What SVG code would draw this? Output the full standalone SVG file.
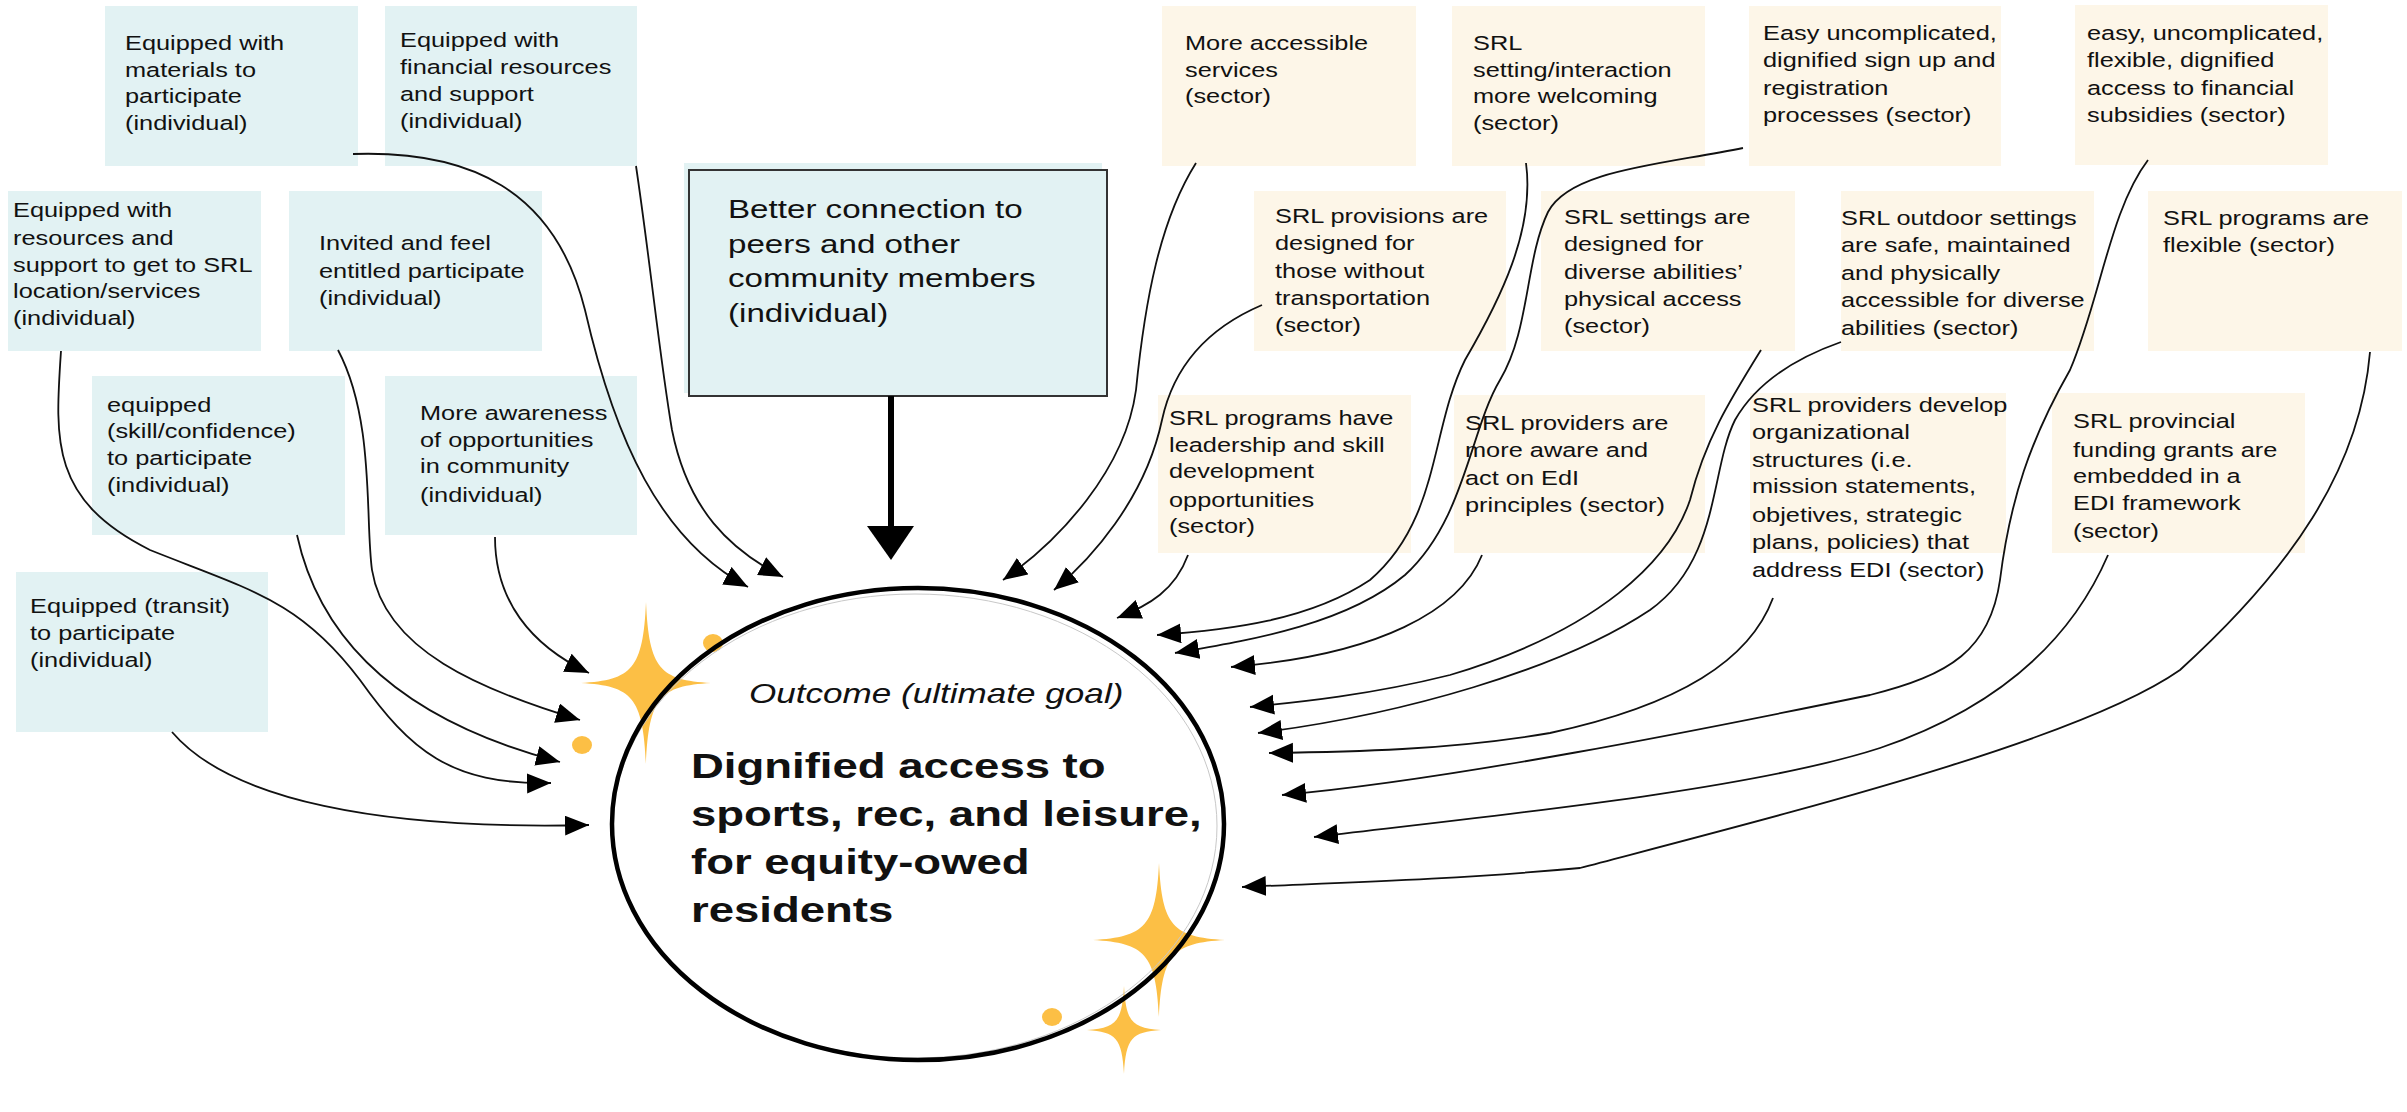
<svg xmlns="http://www.w3.org/2000/svg" width="2407" height="1112" viewBox="0 0 2407 1112">
<defs>
<style>
.ind{fill:#e2f2f3}
.sec{fill:#fdf6e8}
.t{font-family:"Liberation Sans",Arial,sans-serif;font-size:19.5px;fill:#111}
.bigt{font-family:"Liberation Sans",Arial,sans-serif;font-size:25.5px;fill:#111}
.goal{font-family:"Liberation Sans",Arial,sans-serif;font-size:35px;font-weight:bold;fill:#111}
.oc{font-family:"Liberation Sans",Arial,sans-serif;font-size:27px;font-style:italic;fill:#111}
.c{fill:none;stroke:#111;stroke-width:1.8;marker-end:url(#ah)}
.gold{fill:#fcbf45}
</style>
<marker id="ah" markerWidth="26" markerHeight="22" refX="24" refY="10" orient="auto" markerUnits="userSpaceOnUse"><path d="M0,0 L24,10 L0,20 z" fill="#000"/></marker>
</defs>
<rect width="2407" height="1112" fill="#fff"/>

<g id="n-materials"><rect class="ind" x="105" y="6" width="253" height="160"/>
<text class="t" transform="matrix(1.3,0,0,1,125,0)"><tspan x="0" y="50">Equipped with</tspan><tspan x="0" y="77">materials to</tspan><tspan x="0" y="103">participate</tspan><tspan x="0" y="130">(individual)</tspan></text></g>

<g id="n-financial"><rect class="ind" x="385" y="6" width="252" height="160"/>
<text class="t" transform="matrix(1.3,0,0,1,400,0)"><tspan x="0" y="47">Equipped with</tspan><tspan x="0" y="74">financial resources</tspan><tspan x="0" y="101">and support</tspan><tspan x="0" y="128">(individual)</tspan></text></g>

<g id="n-resources"><rect class="ind" x="8" y="191" width="253" height="160"/>
<text class="t" transform="matrix(1.3,0,0,1,13,0)"><tspan x="0" y="217">Equipped with</tspan><tspan x="0" y="245">resources and</tspan><tspan x="0" y="272">support to get to SRL</tspan><tspan x="0" y="298">location/services</tspan><tspan x="0" y="325">(individual)</tspan></text></g>

<g id="n-invited"><rect class="ind" x="289" y="191" width="253" height="160"/>
<text class="t" transform="matrix(1.3,0,0,1,319,0)"><tspan x="0" y="250">Invited and feel</tspan><tspan x="0" y="278">entitled participate</tspan><tspan x="0" y="305">(individual)</tspan></text></g>

<g id="n-skill"><rect class="ind" x="92" y="376" width="253" height="159"/>
<text class="t" transform="matrix(1.3,0,0,1,107,0)"><tspan x="0" y="412">equipped</tspan><tspan x="0" y="438">(skill/confidence)</tspan><tspan x="0" y="465">to participate</tspan><tspan x="0" y="492">(individual)</tspan></text></g>

<g id="n-awareness"><rect class="ind" x="385" y="376" width="252" height="159"/>
<text class="t" transform="matrix(1.3,0,0,1,420,0)"><tspan x="0" y="420">More awareness</tspan><tspan x="0" y="447">of opportunities</tspan><tspan x="0" y="473">in community</tspan><tspan x="0" y="502">(individual)</tspan></text></g>

<g id="n-transit"><rect class="ind" x="16" y="572" width="252" height="160"/>
<text class="t" transform="matrix(1.3,0,0,1,30,0)"><tspan x="0" y="613">Equipped (transit)</tspan><tspan x="0" y="640">to participate</tspan><tspan x="0" y="667">(individual)</tspan></text></g>

<g id="n-connection"><rect class="ind" x="684" y="163" width="418" height="230"/>
<rect class="ind" x="689" y="170" width="418" height="226" stroke="#333" stroke-width="2"/>
<text class="bigt" transform="matrix(1.3,0,0,1,728,0)"><tspan x="0" y="218">Better connection to</tspan><tspan x="0" y="253">peers and other</tspan><tspan x="0" y="287">community members</tspan><tspan x="0" y="322">(individual)</tspan></text></g>

<g id="n-accessible"><rect class="sec" x="1162" y="6" width="254" height="160"/>
<text class="t" transform="matrix(1.3,0,0,1,1185,0)"><tspan x="0" y="50">More accessible</tspan><tspan x="0" y="77">services</tspan><tspan x="0" y="103">(sector)</tspan></text></g>

<g id="n-welcoming"><rect class="sec" x="1452" y="6" width="253" height="160"/>
<text class="t" transform="matrix(1.3,0,0,1,1473,0)"><tspan x="0" y="50">SRL</tspan><tspan x="0" y="77">setting/interaction</tspan><tspan x="0" y="103">more welcoming</tspan><tspan x="0" y="130">(sector)</tspan></text></g>

<g id="n-signup"><rect class="sec" x="1749" y="6" width="252" height="160"/>
<text class="t" transform="matrix(1.3,0,0,1,1763,0)"><tspan x="0" y="40">Easy uncomplicated,</tspan><tspan x="0" y="67">dignified sign up and</tspan><tspan x="0" y="95">registration</tspan><tspan x="0" y="122">processes (sector)</tspan></text></g>

<g id="n-subsidies"><rect class="sec" x="2075" y="5" width="253" height="160"/>
<text class="t" transform="matrix(1.3,0,0,1,2087,0)"><tspan x="0" y="40">easy, uncomplicated,</tspan><tspan x="0" y="67">flexible, dignified</tspan><tspan x="0" y="95">access to financial</tspan><tspan x="0" y="122">subsidies (sector)</tspan></text></g>

<g id="n-provisions"><rect class="sec" x="1254" y="191" width="252" height="160"/>
<text class="t" transform="matrix(1.3,0,0,1,1275,0)"><tspan x="0" y="223">SRL provisions are</tspan><tspan x="0" y="250">designed for</tspan><tspan x="0" y="278">those without</tspan><tspan x="0" y="305">transportation</tspan><tspan x="0" y="332">(sector)</tspan></text></g>

<g id="n-settings"><rect class="sec" x="1541" y="191" width="254" height="160"/>
<text class="t" transform="matrix(1.3,0,0,1,1564,0)"><tspan x="0" y="224">SRL settings are</tspan><tspan x="0" y="251">designed for</tspan><tspan x="0" y="279">diverse abilities’</tspan><tspan x="0" y="306">physical access</tspan><tspan x="0" y="333">(sector)</tspan></text></g>

<g id="n-outdoor"><rect class="sec" x="1841" y="191" width="253" height="160"/>
<text class="t" transform="matrix(1.3,0,0,1,1841,0)"><tspan x="0" y="225">SRL outdoor settings</tspan><tspan x="0" y="252">are safe, maintained</tspan><tspan x="0" y="280">and physically</tspan><tspan x="0" y="307">accessible for diverse</tspan><tspan x="0" y="335">abilities (sector)</tspan></text></g>

<g id="n-flexible"><rect class="sec" x="2148" y="191" width="254" height="160"/>
<text class="t" transform="matrix(1.3,0,0,1,2163,0)"><tspan x="0" y="225">SRL programs are</tspan><tspan x="0" y="252">flexible (sector)</tspan></text></g>

<g id="n-leadership"><rect class="sec" x="1158" y="395" width="253" height="158"/>
<text class="t" transform="matrix(1.3,0,0,1,1169,0)"><tspan x="0" y="425">SRL programs have</tspan><tspan x="0" y="452">leadership and skill</tspan><tspan x="0" y="478">development</tspan><tspan x="0" y="507">opportunities</tspan><tspan x="0" y="533">(sector)</tspan></text></g>

<g id="n-aware"><rect class="sec" x="1454" y="395" width="251" height="158"/>
<text class="t" transform="matrix(1.3,0,0,1,1465,0)"><tspan x="0" y="430">SRL providers are</tspan><tspan x="0" y="457">more aware and</tspan><tspan x="0" y="485">act on EdI</tspan><tspan x="0" y="512">principles (sector)</tspan></text></g>

<g id="n-develop"><rect class="sec" x="1750" y="393" width="256" height="160"/>
<text class="t" transform="matrix(1.3,0,0,1,1752,0)"><tspan x="0" y="412">SRL providers develop</tspan><tspan x="0" y="439">organizational</tspan><tspan x="0" y="467">structures (i.e.</tspan><tspan x="0" y="493">mission statements,</tspan><tspan x="0" y="522">objetives, strategic</tspan><tspan x="0" y="549">plans, policies) that</tspan><tspan x="0" y="577">address EDI (sector)</tspan></text></g>

<g id="n-provincial"><rect class="sec" x="2052" y="393" width="253" height="160"/>
<text class="t" transform="matrix(1.3,0,0,1,2073,0)"><tspan x="0" y="428">SRL provincial</tspan><tspan x="0" y="457">funding grants are</tspan><tspan x="0" y="483">embedded in a</tspan><tspan x="0" y="510">EDI framework</tspan><tspan x="0" y="538">(sector)</tspan></text></g>

<g id="connectors">
<path class="c" d="M353 154 C470 150 555 190 585 310 C615 440 660 540 748 587"/>
<path class="c" d="M636 166 C650 260 660 360 672 430 C688 510 730 550 783 577"/>
<path class="c" d="M61 351 C55 440 50 500 150 550 C250 590 300 600 360 680 C410 750 450 785 551 783"/>
<path class="c" d="M338 350 C375 420 365 520 372 570 C385 650 480 690 580 720"/>
<path class="c" d="M297 535 C320 640 400 720 560 762"/>
<path class="c" d="M495 537 C495 600 530 645 589 673"/>
<path class="c" d="M172 732 C230 800 380 830 589 825"/>
<path d="M891 396 L891 528" fill="none" stroke="#000" stroke-width="6"/>
<path d="M867 526 L914 526 L891 560 z" fill="#000"/>
<path class="c" d="M1196 163 C1160 220 1145 300 1136 390 C1125 470 1060 540 1003 580"/>
<path class="c" d="M1262 305 C1215 325 1175 360 1162 420 C1145 500 1090 560 1054 590"/>
<path class="c" d="M1188 555 C1175 590 1150 605 1117 618"/>
<path class="c" d="M1526 163 C1535 230 1500 300 1465 360 C1430 430 1440 520 1370 580 C1310 620 1230 630 1157 635"/>
<path class="c" d="M1743 148 C1660 165 1570 170 1548 212 C1525 260 1530 330 1500 380 C1470 430 1465 520 1405 575 C1345 625 1250 640 1175 653"/>
<path class="c" d="M1482 555 C1460 610 1380 655 1231 667"/>
<path class="c" d="M1761 350 C1730 400 1705 440 1690 500 C1670 560 1600 630 1450 675 C1370 695 1300 702 1250 707"/>
<path class="c" d="M1841 342 C1790 360 1755 385 1735 420 C1710 470 1720 560 1650 610 C1560 670 1400 715 1258 733"/>
<path class="c" d="M1773 598 C1750 660 1680 705 1550 733 C1450 750 1350 752 1269 753"/>
<path class="c" d="M2148 160 C2110 210 2100 300 2070 370 C2030 440 2010 500 2000 580 C1990 650 1950 675 1870 695 C1700 730 1450 780 1282 795"/>
<path class="c" d="M2108 555 C2080 620 2020 700 1880 748 C1750 790 1500 815 1314 837"/>
<path class="c" d="M2370 352 C2360 470 2290 570 2180 670 C2080 740 1800 810 1580 868 C1450 880 1330 883 1242 887"/>
</g>

<g id="n-outcome">
<ellipse cx="918" cy="824" rx="306" ry="236" fill="#fff"/>
<path class="gold" d="M646,602 C649,669 660,680 711,683 C660,686 649,697 646,764 C643,697 632,686 581,683 C632,680 643,669 646,602 Z"/>
<path class="gold" d="M1159,863 C1162,926 1173,937 1225,940 C1173,943 1162,954 1159,1017 C1156,954 1145,943 1093,940 C1145,937 1156,926 1159,863 Z"/>
<path class="gold" d="M1124,986 C1126,1022 1132,1028 1161,1030 C1132,1032 1126,1038 1124,1074 C1122,1038 1116,1032 1087,1030 C1116,1028 1122,1022 1124,986 Z"/>
<ellipse class="gold" cx="713" cy="643" rx="10" ry="9"/>
<ellipse class="gold" cx="582" cy="745" rx="10" ry="9"/>
<ellipse class="gold" cx="1052" cy="1017" rx="10" ry="9"/>
<ellipse cx="915" cy="826" rx="302" ry="232" fill="none" stroke="#c8c8c8" stroke-width="1"/>
<ellipse cx="918" cy="824" rx="306" ry="236" fill="none" stroke="#000" stroke-width="4.5"/>
<text class="oc" transform="matrix(1.3,0,0,1,749,0)"><tspan x="0" y="703">Outcome (ultimate goal)</tspan></text>
<text class="goal" transform="matrix(1.3,0,0,1,691,0)"><tspan x="0" y="778">Dignified access to</tspan><tspan x="0" y="826">sports, rec, and leisure,</tspan><tspan x="0" y="874">for equity-owed</tspan><tspan x="0" y="922">residents</tspan></text>
</g>
</svg>
